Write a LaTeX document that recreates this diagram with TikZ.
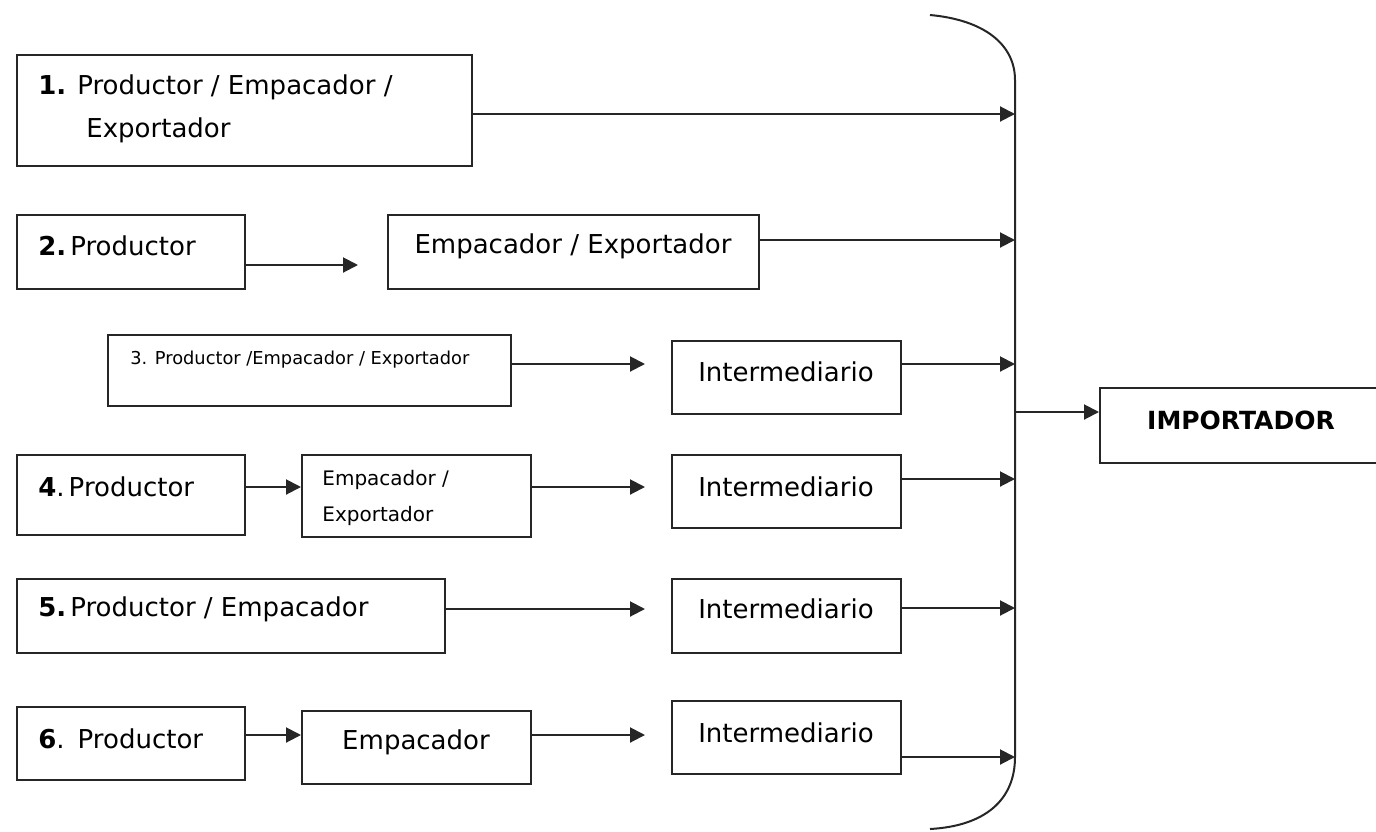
\documentclass[tikz,border=0pt]{standalone}
\usepackage{fontspec}
\setmainfont{DejaVu Sans}
\usetikzlibrary{arrows.meta,calc}
\begin{document}
\begin{tikzpicture}[x=0.5pt,y=-0.5pt,
  box/.style={draw=black!85, line width=1pt, inner sep=0pt},
  txt/.style={inner sep=0pt, anchor=west, font=\fontsize{13}{15}\selectfont},
  ctxt/.style={inner sep=0pt, font=\fontsize{13}{15}\selectfont},
  arr/.style={draw=black!85, line width=1pt, -{Triangle[length=7.5pt,width=7.5pt]}},
  ]
\useasboundingbox (0,0) rectangle (1376,831);
% boxes
\node[box, minimum width=227.5pt, minimum height=55.5pt] (b1) at (244.5,110.5) {};
\node[box, minimum width=114pt, minimum height=37pt] (b2a) at (131,252) {};
\node[box, minimum width=185.5pt, minimum height=37pt] (b2b) at (573.5,252) {};
\node[box, minimum width=201.5pt, minimum height=35.5pt] (b3a) at (309.5,370.5) {};
\node[box, minimum width=114.5pt, minimum height=36.5pt] (b3b) at (786.5,377.5) {};
\node[box, minimum width=114pt, minimum height=40pt] (b4a) at (131,495) {};
\node[box, minimum width=114.5pt, minimum height=41pt] (b4b) at (416.5,496) {};
\node[box, minimum width=114.5pt, minimum height=36.5pt] (b4c) at (786.5,491.5) {};
\node[box, minimum width=214pt, minimum height=37pt] (b5a) at (231,616) {};
\node[box, minimum width=114.5pt, minimum height=37pt] (b5b) at (786.5,616) {};
\node[box, minimum width=114pt, minimum height=36.5pt] (b6a) at (131,743.5) {};
\node[box, minimum width=114.5pt, minimum height=36.5pt] (b6b) at (416.5,747.5) {};
\node[box, minimum width=114.5pt, minimum height=36.5pt] (b6c) at (786.5,737.5) {};
\node[box, minimum width=140pt, minimum height=37.5pt] (imp) at (1240,425.5) {};
% texts
\node[txt] (t1a) at (38,87) {\textbf{1.}\hspace{5.5pt}Productor / Empacador /};
\node[txt] (t1b) at (86,130) {Exportador};
\node[txt] (t2a) at (38,246) {\textbf{2.}\hspace{2pt}Productor};
\node[ctxt] (t2b) at (573,246) {Empacador / Exportador};
\node[txt, font=\fontsize{8.9}{10}\selectfont] (t3a) at (130,360) {3. Productor /Empacador / Exportador};
\node[ctxt] (t3b) at (786,372) {Intermediario};
\node[txt] (t4a) at (38,487) {\textbf{4}.\hspace{2pt}Productor};
\node[txt, font=\fontsize{10}{12}\selectfont] (t4b1) at (322,480) {Empacador /};
\node[txt, font=\fontsize{10}{12}\selectfont] (t4b2) at (322,516) {Exportador};
\node[ctxt] (t4c) at (786,487) {Intermediario};
\node[txt] (t5a) at (38,609) {\textbf{5.}\hspace{2pt}Productor / Empacador};
\node[ctxt] (t5b) at (786,609) {Intermediario};
\node[txt] (t6a) at (38,739) {\textbf{6}.\hspace{6.5pt}Productor};
\node[ctxt] (t6b) at (416,742) {Empacador};
\node[ctxt] (t6c) at (786,733) {Intermediario};
\node[ctxt, font=\fontsize{12.5}{14}\selectfont\bfseries] (timp) at (1241,420) {IMPORTADOR};
% brace
\coordinate (br) at (1015,412);
\coordinate (btop) at (930,15);
\coordinate (bbot) at (930,829);
\draw[draw=black!85, line width=1pt] (btop) .. controls (985,20) and (1015,45) .. (1015,80)
  -- (1015,757) .. controls (1015,800) and (985,826) .. (bbot);
% free arrow ends
\coordinate (e2) at (358,265);
\coordinate (e3) at (645,364);
\coordinate (e4) at (645,487);
\coordinate (e5) at (645,609);
\coordinate (e6) at (645,735);
% arrows
\draw[arr] ($(b1.east)+(0,3.5)$) coordinate (s1) -- (s1 -| br);
\draw[arr] ($(b2a.east)+(0,13)$) -- (e2);
\draw[arr] ($(b2b.east)+(0,-12)$) coordinate (s2) -- (s2 -| br);
\draw[arr] ($(b3a.east)+(0,-6.5)$) -- (e3);
\draw[arr] ($(b3b.east)+(0,-13.5)$) coordinate (s3) -- (s3 -| br);
\draw[arr] ($(b4a.east)+(0,-8)$) coordinate (s4a) -- (s4a -| b4b.west);
\draw[arr] ($(b4b.east)+(0,-9)$) -- (e4);
\draw[arr] ($(b4c.east)+(0,-12.5)$) coordinate (s4) -- (s4 -| br);
\draw[arr] ($(b5a.east)+(0,-7)$) -- (e5);
\draw[arr] ($(b5b.east)+(0,-8)$) coordinate (s5) -- (s5 -| br);
\draw[arr] ($(b6a.east)+(0,-8.5)$) coordinate (s6a) -- (s6a -| b6b.west);
\draw[arr] ($(b6b.east)+(0,-12.5)$) -- (e6);
\draw[arr] ($(b6c.east)+(0,19.5)$) coordinate (s6) -- (s6 -| br);
\draw[arr] (br) -- (br -| imp.west);
\end{tikzpicture}
\end{document}
